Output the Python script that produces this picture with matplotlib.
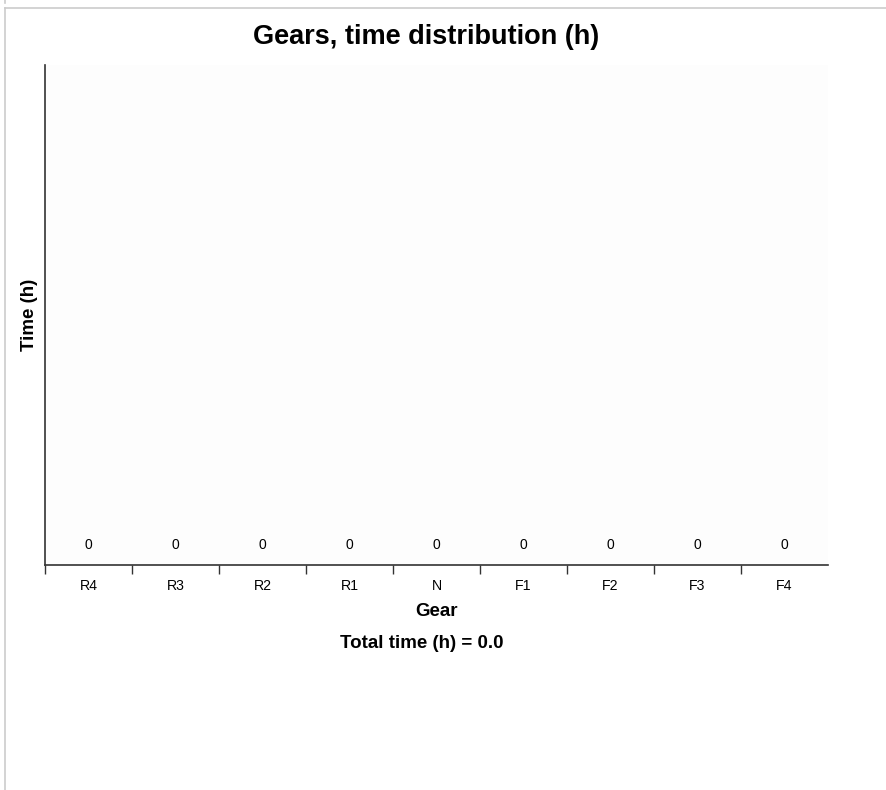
import numpy as np
import matplotlib.pyplot as plt
from matplotlib.lines import Line2D

plt.rcParams['font.family'] = ['Liberation Sans', 'DejaVu Sans']

gears = ["R4", "R3", "R2", "R1", "N", "F1", "F2", "F3", "F4"]
hours = [0, 0, 0, 0, 0, 0, 0, 0, 0]
total_hours = sum(hours)

W, H = 886, 790
fig = plt.figure(figsize=(W / 100, H / 100), dpi=100)

# light panel border (top and left)
fig.add_artist(Line2D([5 / W, 1], [1 - 8 / H, 1 - 8 / H], color="#cccccc", lw=1.2))
fig.add_artist(Line2D([5 / W, 5 / W], [0, 1 - 8 / H], color="#cccccc", lw=1.2))
fig.add_artist(Line2D([5 / W, 5 / W], [1 - 3 / H, 1], color="#cccccc", lw=1.2))

ax = fig.add_axes([45 / W, 1 - 565 / H, (828 - 45) / W, (565 - 65) / H])
ax.set_facecolor("#fdfdfd")

x = np.arange(len(gears))
bars = ax.bar(x, hours, width=0.8, color="#4a7ebb")
ax.set_xlim(-0.5, len(gears) - 0.5)
ax.set_ylim(0, 1)

for xi, v in zip(x, hours):
    ax.annotate(f"{v:g}", (xi, v), xytext=(0, 14.5), textcoords="offset points",
                ha="center", va="center", fontsize=10)

ax.set_xticks(x)
ax.set_xticklabels(gears, fontsize=10.2)
ax.tick_params(axis="x", length=0, pad=10)
ax.set_xticks(np.arange(-0.5, len(gears) - 1), minor=True)
ax.tick_params(axis="x", which="minor", length=6.5, width=1, color="#333333")
ax.set_yticks([])

for s in ["top", "right"]:
    ax.spines[s].set_visible(False)
for s in ["left", "bottom"]:
    ax.spines[s].set_color("#333333")
    ax.spines[s].set_linewidth(1.2)

ax.set_xlabel("Gear", fontsize=13.5, fontweight="bold", va="center")
ax.xaxis.set_label_coords(0.5, -(612 - 565) / 500)
ax.set_ylabel("Time (h)", fontsize=13.5, fontweight="bold", va="center")
ax.yaxis.set_label_coords(-(45 - 29) / 783, 0.5)

fig.text(426 / W, 1 - 37 / H, "Gears, time distribution (h)", ha="center", va="center",
         fontsize=19.5, fontweight="bold")
fig.text(422 / W, 1 - 643 / H, f"Total time (h) = {total_hours:.1f}", ha="center", va="center",
         fontsize=13.5, fontweight="bold")

fig.savefig("out.png", dpi=100)
